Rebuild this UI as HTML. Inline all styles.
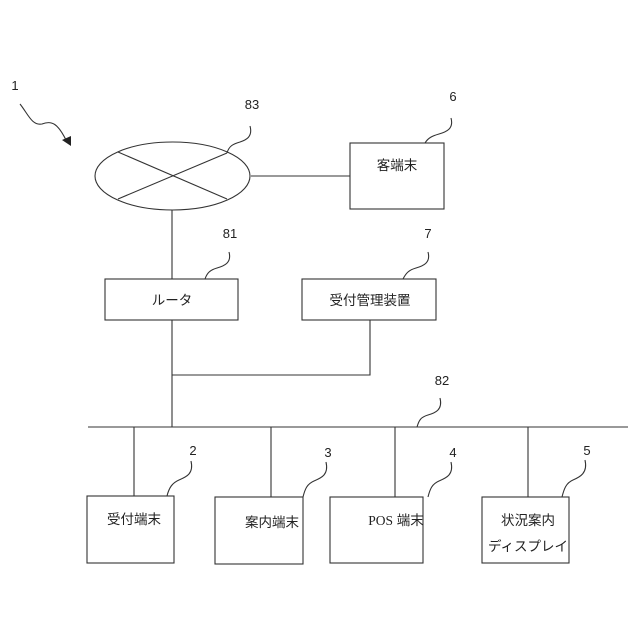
<!DOCTYPE html>
<html><head><meta charset="utf-8"><style>html,body{margin:0;padding:0;background:#fff}svg{display:block}text{font-family:"Liberation Sans","Noto Sans CJK JP",sans-serif;fill:#222}</style></head>
<body>
<svg width="640" height="640" viewBox="0 0 640 640" xmlns="http://www.w3.org/2000/svg">
<g stroke="#333" stroke-width="1.1" fill="none">
<ellipse cx="172.5" cy="176" rx="77.5" ry="34"/>
<line x1="118" y1="152" x2="227" y2="199"/>
<line x1="118" y1="199" x2="227" y2="153"/>
<line x1="251" y1="176" x2="350" y2="176"/>
<rect x="350" y="143" width="94" height="66"/>
<line x1="172" y1="210" x2="172" y2="279"/>
<rect x="105" y="279" width="133" height="41"/>
<rect x="302" y="279" width="134" height="41"/>
<line x1="172" y1="320" x2="172" y2="427"/>
<polyline points="172,375 370,375 370,320"/>
<line x1="88" y1="427" x2="628" y2="427"/>
<line x1="134" y1="427" x2="134" y2="496"/>
<line x1="271" y1="427" x2="271" y2="497"/>
<line x1="395" y1="427" x2="395" y2="497"/>
<line x1="528" y1="427" x2="528" y2="497"/>
<rect x="87" y="496" width="87" height="67"/>
<rect x="215" y="497" width="88" height="67"/>
<rect x="349" y="497" width="93" height="66" transform="translate(-19,0)"/>
<rect x="482" y="497" width="87" height="66"/>
<!-- squiggles -->
<path d="M250,126 C253,137 246,140 240,142 C233,144 229,146 227,153"/>
<path d="M451,118 C454,129 446,132 439,134 C432,136 428,138 425,143"/>
<path d="M229,252 C232,263 224,266 217,268 C210,270 207,273 205,279"/>
<path d="M428,252 C431,263 423,266 416,268 C409,270 406,273 403,279"/>
<path d="M440,398 C443,410 435,413 428,415 C421,417 419,420 417,427"/>
<path d="M191,461 C194,474 186,477 179,480 C172,483 169,488 167,496"/>
<path d="M326,462 C329,475 321,478 314,481 C307,484 305,489 303,497"/>
<path d="M451,462 C454,475 446,478 439,481 C432,484 430,489 428,497"/>
<path d="M585,460 C588,473 580,477 573,480 C566,483 564,489 562,497"/>
<path d="M20,104 C28,114 32,126 42,124 C52,120 58,124 66,140"/>
</g>
<polygon points="62,140 71,136 71,146" fill="#222"/>
<g font-size="13">
<text x="15" y="90" text-anchor="middle">1</text>
<text x="252" y="109" text-anchor="middle">83</text>
<text x="453" y="101" text-anchor="middle">6</text>
<text x="230" y="238" text-anchor="middle">81</text>
<text x="428" y="238" text-anchor="middle">7</text>
<text x="442" y="385" text-anchor="middle">82</text>
<text x="193" y="455" text-anchor="middle">2</text>
<text x="328" y="457" text-anchor="middle">3</text>
<text x="453" y="457" text-anchor="middle">4</text>
<text x="587" y="455" text-anchor="middle">5</text>
</g>
<g font-size="13.5" text-anchor="middle">
<text x="397" y="170">客端末</text>
<text x="172" y="305">ルータ</text>
<text x="370" y="305">受付管理装置</text>
<text x="134" y="524">受付端末</text>
<text x="272" y="527">案内端末</text>
<text x="396" y="525"><tspan font-family="Liberation Serif">POS</tspan> 端末</text>
<text x="528" y="525">状況案内</text>
<text x="528" y="551">ディスプレイ</text>
</g>
</svg>
</body></html>
